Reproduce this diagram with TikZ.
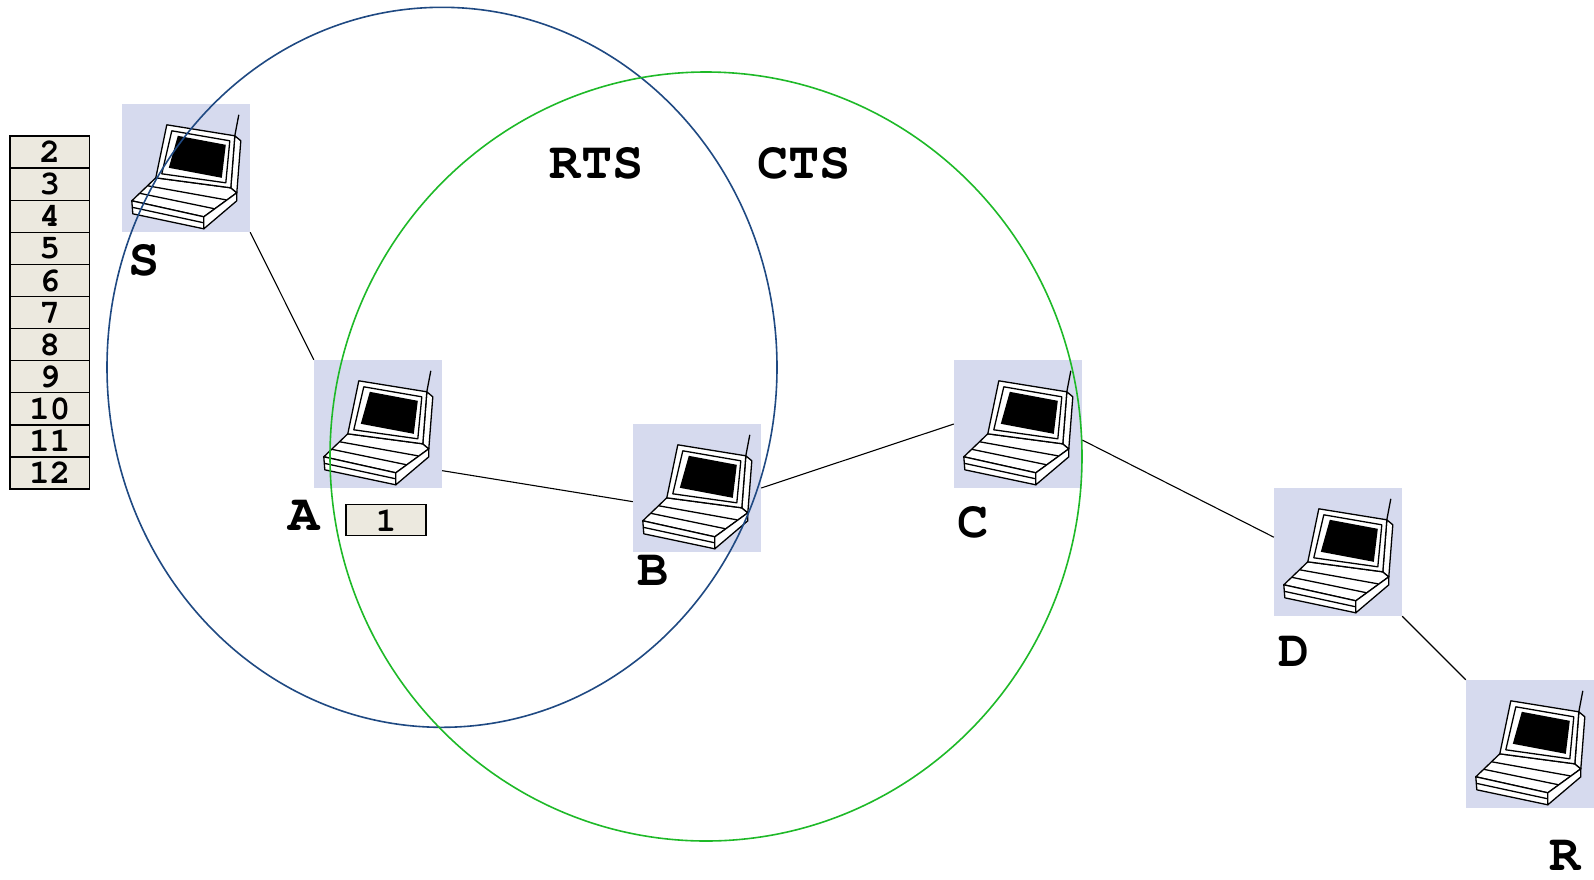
\documentclass[tikz,border=0pt]{standalone}
\usepackage{fontspec}
\setmonofont{texgyrecursor-regular.otf}[BoldFont=texgyrecursor-bold.otf]
\definecolor{hostbg}{RGB}{214,218,238}
\definecolor{pktbg}{RGB}{236,233,223}
\definecolor{rangeblue}{RGB}{31,73,130}
\definecolor{rangegreen}{RGB}{30,185,40}
\begin{document}
\begin{tikzpicture}[x=1pt,y=-1pt,
  host/.style={rectangle,fill=hostbg,minimum size=128pt,inner sep=0pt},
  hostlabel/.style={inner sep=0pt,font=\ttfamily\bfseries\fontsize{52}{52}\selectfont},
  packet/.style={rectangle,draw=black,line width=1.3pt,fill=pktbg,minimum width=79.5pt,
    minimum height=32.1pt,inner sep=0pt,font=\ttfamily\bfseries\fontsize{34}{34}\selectfont},
  link/.style={draw=black,line width=1.1pt},
  rangering/.style={line width=1.6pt},
  laptop/.pic={
    \begin{scope}[line width=1.3pt,line join=round,draw=black,fill=white]
      % base: deck, front and right side
      \filldraw (34,74) -- (109,84) -- (115,89) -- (82,113) -- (10,97) -- cycle;
      \draw (26,82) -- (104,96);
      \draw (18,89.5) -- (93,105);
      \filldraw (10,97) -- (82,113) -- (82,125) -- (11,110) -- cycle;
      \draw (10.5,103.5) -- (82,119);
      \filldraw (82,113) -- (115,89) -- (115,97) -- (82,125) -- cycle;
      % antenna
      \draw (113,32) -- (117,11);
      % lid
      \filldraw (113,32) -- (119,37) -- (115,89) -- (109,84) -- cycle;
      \filldraw (45,21) -- (113,32) -- (109,84) -- (34,74) -- cycle;
      \draw (50,27) -- (108,37) -- (104,79) -- (40,70) -- cycle;
      \fill[black] (56,32) -- (104,41) -- (100,74) -- (47,64) -- cycle;
    \end{scope}
  }]
\useasboundingbox (0,0) rectangle (1594,879);

% hosts
\node[host] (S) at (186,168) {};
\node[host] (A) at (378,424) {};
\node[host] (B) at (697,488) {};
\node[host] (C) at (1018,424) {};
\node[host] (D) at (1338,552) {};
\node[host] (R) at (1530,744) {};
\foreach \h in {S,A,B,C,D,R} \pic at (\h.north west) {laptop};

% host labels
\node[hostlabel] (lS) at (143.8,260.8) {S};
\node[hostlabel] (lA) at (304.5,515.4) {A};
\node[hostlabel] (lB) at (652.6,570.8) {B};
\node[hostlabel] (lC) at (973,522.5) {C};
\node[hostlabel] (lD) at (1293.6,651.1) {D};
\node[hostlabel] (lR) at (1565,855) {R};
\node[hostlabel] (rts) at (596.7,163.2) {RTS};
\node[hostlabel] (cts) at (804.1,163.2) {CTS};

% queued packets at S and the packet held at A
\foreach \i in {2,...,12}
  \node[packet] (p\i) at (49.75,{136+32.1*(\i-2)+16.05}) {\i};
\node[packet,minimum width=80pt,minimum height=31pt] (p1) at (386,520.3) {1};

% route
\draw[link] (S.south east) -- (A.north west);
\draw[link] (A.-36) -- (B.-168);
\draw[link] (B.east) -- (C.west);
\draw[link] (C.-14) -- (D.167);
\draw[link] (D.south east) -- (R.north west);

% transmission ranges
\draw[rangering,rangeblue] (442,367.3) ellipse [x radius=335pt,y radius=360pt];
\draw[rangering,rangegreen] (706,456.5) ellipse [x radius=376pt,y radius=384.5pt];
\end{tikzpicture}
\end{document}
